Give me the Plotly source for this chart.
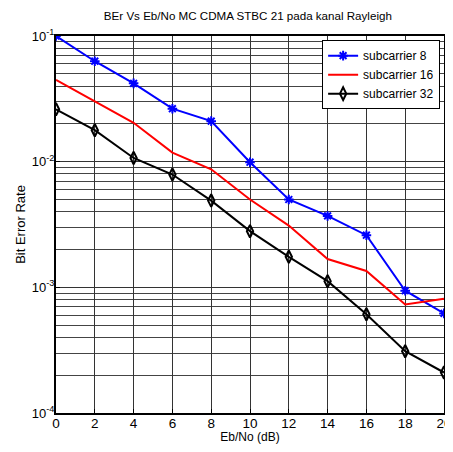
import plotly.graph_objects as go

ebno = [0, 2, 4, 6, 8, 10, 12, 14, 16, 18, 20]
sc8 = [0.1, 0.063, 0.042, 0.0264, 0.021, 0.0099, 0.0050, 0.0037, 0.0026, 0.00094, 0.00062]
sc16 = [0.0447, 0.030, 0.0204, 0.0118, 0.0087, 0.0050, 0.0031, 0.00168, 0.00135, 0.00073, 0.00081]
sc32 = [0.0261, 0.0178, 0.0107, 0.0079, 0.0049, 0.0028, 0.00175, 0.00112, 0.00061, 0.00031, 0.00021]

ytickvals = [1e-4, 1e-3, 1e-2, 1e-1]
yticktext = ["10<sup>-4</sup>", "10<sup>-3</sup>", "10<sup>-2</sup>", "10<sup>-1</sup>"]

fig = go.Figure()
fig.add_trace(go.Scatter(x=ebno, y=sc8, mode="lines+markers", name="subcarrier 8",
                         line=dict(color="#0000ff", width=2),
                         marker=dict(symbol="asterisk-open", size=8, color="#0000ff",
                                     line=dict(color="#0000ff", width=2))))
fig.add_trace(go.Scatter(x=ebno, y=sc16, mode="lines", name="subcarrier 16",
                         line=dict(color="#ff0000", width=2)))
fig.add_trace(go.Scatter(x=ebno, y=sc32, mode="lines+markers", name="subcarrier 32",
                         line=dict(color="#000000", width=2),
                         marker=dict(symbol="diamond-tall-open", size=9, color="#000000",
                                     line=dict(color="#000000", width=2))))

# page body has an 8px margin; figure sized so the page does not overflow the window
fig.update_layout(
    width=445, height=436,
    margin=dict(l=48, r=9, t=28, b=31, autoexpand=False),
    paper_bgcolor="white", plot_bgcolor="white",
    font=dict(family="Liberation Sans, Arial, sans-serif", size=12, color="black"),
    title=dict(text="BEr Vs Eb/No MC CDMA STBC 21 pada kanal Rayleigh",
               x=0.539, xanchor="center", y=0.9817, yanchor="middle",
               font=dict(size=11.6), automargin=False),
    legend=dict(x=0.99, y=0.989, xanchor="right", yanchor="top",
                bgcolor="white", bordercolor="black", borderwidth=1,
                font=dict(size=12), tracegroupgap=0),
    showlegend=True,
)
fig.update_xaxes(range=[0, 20], dtick=2, tick0=0, showgrid=True, gridcolor="#333", gridwidth=1,
                 showline=True, linecolor="black", linewidth=2, mirror=True,
                 ticks="inside", ticklen=4, tickcolor="black", zeroline=False,
                 automargin=False, ticklabeloverflow="allow", ticklabelstandoff=-3,
                 tickfont=dict(size=13.5),
                 title=dict(text="Eb/No (dB)", standoff=5, font=dict(size=12)))
fig.update_yaxes(type="log", range=[-4, -1], tickvals=ytickvals, ticktext=yticktext,
                 showgrid=True, gridcolor="#333", gridwidth=1,
                 minor=dict(showgrid=True, gridcolor="#444", gridwidth=1,
                            tickvals=[m * 10 ** e for e in (-4, -3, -2) for m in range(2, 10)]),
                 showline=True, linecolor="black", linewidth=2, mirror=True,
                 ticks="inside", ticklen=4, tickcolor="black", zeroline=False,
                 automargin=False, ticklabeloverflow="allow", ticklabelstandoff=-3,
                 tickfont=dict(size=13),
                 title=dict(text="Bit Error Rate", standoff=3, font=dict(size=13)))

fig.write_html("out.html")
